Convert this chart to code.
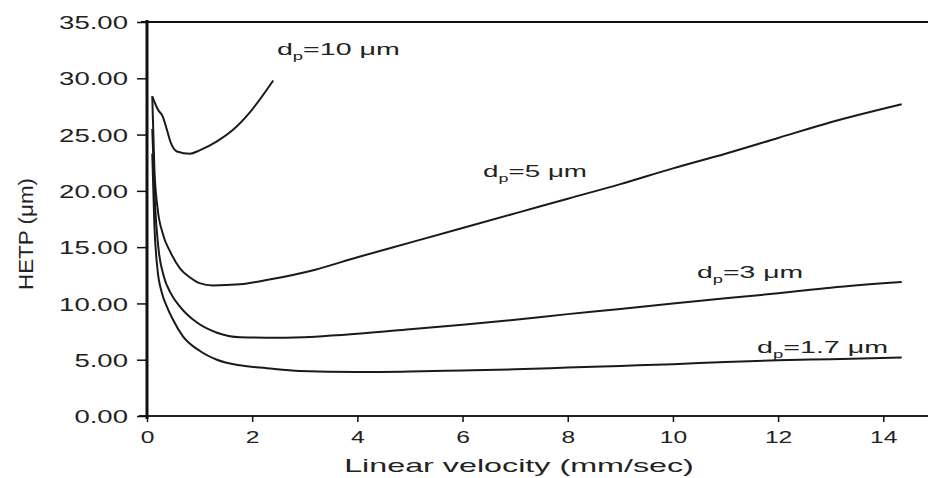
<!DOCTYPE html>
<html>
<head>
<meta charset="utf-8">
<script src="https://cdn.jsdelivr.net/npm/d3@7"></script>
<style>
  body { margin: 0; background: #fff; }
  svg { display: block; font-family: "Liberation Sans", Arial, sans-serif; }
  .domain { display: none; }
</style>
</head>
<body>
<div id="chart"></div>
<script>
// values: linear velocity (mm/sec) and HETP (um)
var vel10 = [0.1, 0.21, 0.3, 0.38, 0.45, 0.57, 0.82, 1.0, 1.33, 1.63, 1.96, 2.4];
var hetp10 = [28.4, 27.2, 26.6, 25.4, 24.3, 23.5, 23.3, 23.6, 24.4, 25.4, 27.0, 29.8];

var vel5 = [0.1, 0.14, 0.2, 0.3, 0.44, 0.63, 0.82, 1.0, 1.25, 1.77, 2.3, 3.2, 4, 5, 6, 7, 8, 9, 10, 11, 12, 13, 14.35];
var hetp5 = [28.4, 22, 18.5, 16.2, 14.6, 13.1, 12.3, 11.8, 11.6, 11.7, 12.1, 13.0, 14.1, 15.4, 16.7, 18.0, 19.3, 20.6, 22.0, 23.3, 24.7, 26.1, 27.7];

var vel3 = [0.1, 0.15, 0.22, 0.32, 0.44, 0.63, 0.95, 1.33, 1.77, 2.5, 3.2, 4, 5, 6, 7, 8, 9, 10, 11, 12, 13, 14.35];
var hetp3 = [25.5, 19, 14.8, 12.4, 11.0, 9.7, 8.3, 7.4, 7.0, 6.95, 7.05, 7.3, 7.7, 8.1, 8.55, 9.05, 9.5, 10.0, 10.45, 10.9, 11.4, 11.9];

var vel17 = [0.1, 0.14, 0.2, 0.28, 0.38, 0.49, 0.68, 1.0, 1.33, 1.77, 2.28, 2.9, 4, 5, 6, 7, 8, 9, 10, 11, 12, 13, 14.35];
var hetp17 = [23.3, 17, 13.0, 11.0, 9.7, 8.6, 7.1, 5.8, 5.0, 4.5, 4.25, 4.0, 3.9, 3.95, 4.05, 4.15, 4.3, 4.45, 4.6, 4.8, 4.95, 5.05, 5.2];

var seriesNames = ["10", "5", "3", "1.7"];
var yTicks = [0, 5, 10, 15, 20, 25, 30, 35];
var xTicks = [0, 2, 4, 6, 8, 10, 12, 14];

var width = 928;
var height = 478;
var margin = { top: 22, right: 0, bottom: 62, left: 147 };

var svg = d3
  .select("#chart")
  .append("svg")
  .attr("width", width)
  .attr("height", height);

var xScale = d3
  .scaleLinear()
  .domain([0, 14.85])
  .range([margin.left, width - margin.right]);

var yScale = d3
  .scaleLinear()
  .domain([0, 35])
  .range([height - margin.bottom, margin.top]);

// stretch a text element horizontally to a given width (the scan is wide)
function stretch(sel, x, y, w, rot) {
  var bw = sel.node().getBBox().width;
  var t = "translate(" + x + "," + y + ")";
  if (rot) t += " rotate(" + rot + ")";
  sel.attr("transform", t + " scale(" + w / bw + ",1)");
}

// frame lines
svg
  .append("line")
  .attr("x1", margin.left - 6)
  .attr("x2", width)
  .attr("y1", yScale(35))
  .attr("y2", yScale(35))
  .attr("stroke", "#111")
  .attr("stroke-width", 2);

svg
  .append("line")
  .attr("x1", margin.left - 8)
  .attr("x2", width)
  .attr("y1", yScale(0))
  .attr("y2", yScale(0))
  .attr("stroke", "#222")
  .attr("stroke-width", 2.2);

svg
  .append("line")
  .attr("x1", margin.left)
  .attr("x2", margin.left)
  .attr("y1", yScale(35) - 2)
  .attr("y2", yScale(0) + 3)
  .attr("stroke", "#111")
  .attr("stroke-width", 3);

// y axis
var yAxis = svg
  .append("g")
  .attr("transform", "translate(" + margin.left + ",0)")
  .call(
    d3
      .axisLeft(yScale)
      .tickValues(yTicks)
      .tickSize(10)
      .tickFormat(d3.format(".2f"))
  );
yAxis.selectAll("line").attr("stroke", "#111").attr("stroke-width", 1.5);
yAxis
  .selectAll("text")
  .attr("font-size", "19px")
  .attr("fill", "#222")
  .attr("x", 0)
  .attr("dy", "0.35em")
  .attr("transform", "translate(-19,0) scale(1.45,1)");

// x axis
var xAxis = svg
  .append("g")
  .attr("transform", "translate(0," + yScale(0) + ")")
  .call(
    d3
      .axisBottom(xScale)
      .tickValues(xTicks)
      .tickSize(6)
      .tickFormat(d3.format("d"))
  );
xAxis.selectAll("line").attr("stroke", "#111").attr("stroke-width", 1.5);
xAxis
  .selectAll("text")
  .attr("font-size", "17px")
  .attr("fill", "#222")
  .attr("y", 0)
  .attr("dy", 0)
  .attr("transform", "translate(0,27) scale(1.45,1)");

// axis titles
var xTitle = svg
  .append("text")
  .attr("font-size", "18px")
  .attr("fill", "#222")
  .attr("text-anchor", "middle")
  .text("Linear velocity (mm/sec)");
stretch(xTitle, 519, 472, 350);

var yTitle = svg
  .append("text")
  .attr("font-size", "20px")
  .attr("fill", "#222")
  .attr("text-anchor", "middle")
  .text("HETP (\u03bcm)");
stretch(yTitle, 33, 234, 112, -90);

// curves
var line = d3
  .line()
  .x(function(d) {
    return xScale(d[0]);
  })
  .y(function(d) {
    return yScale(d[1]);
  })
  .curve(d3.curveMonotoneX);

var allSeries = [
  d3.zip(vel10, hetp10),
  d3.zip(vel5, hetp5),
  d3.zip(vel3, hetp3),
  d3.zip(vel17, hetp17)
];

svg
  .selectAll(".curve")
  .data(allSeries)
  .enter()
  .append("path")
  .attr("class", "curve")
  .attr("d", line)
  .attr("fill", "none")
  .attr("stroke", "#1a1a1a")
  .attr("stroke-width", 2);

// curve labels: [velocity, hetp] of the label start, target width
var labelPos = [[2.47, 32.1, 123], [6.39, 21.2, 104], [10.46, 12.25, 106], [11.6, 5.6, 131]];

seriesNames.forEach(function(name, i) {
  var t = svg
    .append("text")
    .attr("font-size", "17px")
    .attr("fill", "#222");
  t.append("tspan").text("d");
  t.append("tspan")
    .attr("font-size", "11px")
    .attr("dy", 5)
    .text("p");
  t.append("tspan")
    .attr("dy", -5)
    .text("=" + name + " \u03bcm");
  stretch(t, xScale(labelPos[i][0]), yScale(labelPos[i][1]), labelPos[i][2]);
});
</script>
</body>
</html>
